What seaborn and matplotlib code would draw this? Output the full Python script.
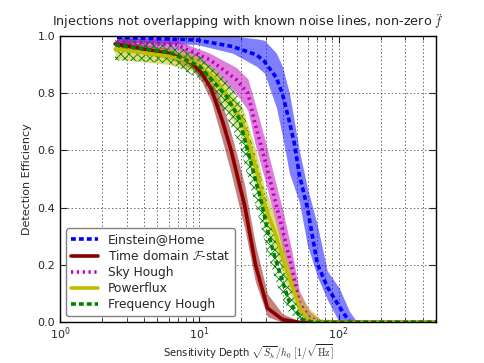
import numpy as np
import matplotlib
matplotlib.use("Agg")
import matplotlib.pyplot as plt
import seaborn as sns

# Einstein@Home
eah_depth = [2.56, 9.56, 17.3, 25.7, 29.3, 35.7, 39.5, 44.3, 48.1, 52.2, 59.6, 70.3, 82.8, 101, 119, 136, 500]
eah_eff = [0.995, 0.986, 0.963, 0.934, 0.911, 0.854, 0.797, 0.70, 0.624, 0.515, 0.40, 0.204, 0.124, 0.055, 0.003, 0.0, 0.0]
eah_lo = [0.98, 0.97, 0.94, 0.894, 0.87, 0.75, 0.65, 0.52, 0.47, 0.42, 0.27, 0.16, 0.08, 0.0, 0.0, 0.0, 0.0]
eah_hi = [1.0, 1.0, 1.0, 0.99, 0.985, 0.94, 0.893, 0.80, 0.70, 0.60, 0.47, 0.34, 0.18, 0.12, 0.04, 0.0, 0.0]

# Time domain F-stat
td_depth = [2.48, 6.13, 8.81, 10.4, 12.2, 14.7, 16.9, 19.4, 21.1, 25.3, 30.8, 39.4, 52.2, 500]
td_eff = [0.972, 0.938, 0.906, 0.87, 0.814, 0.70, 0.60, 0.48, 0.41, 0.20, 0.05, 0.01, 0.0, 0.0]
td_lo = [0.955, 0.92, 0.885, 0.84, 0.77, 0.63, 0.52, 0.40, 0.33, 0.14, 0.02, 0.0, 0.0, 0.0]
td_hi = [0.985, 0.955, 0.925, 0.895, 0.85, 0.76, 0.66, 0.55, 0.48, 0.27, 0.10, 0.03, 0.005, 0.0]

# Sky Hough
sky_depth = [2.55, 6.85, 11.85, 18.4, 22.3, 24.9, 30.2, 35.6, 39.7, 45.6, 52.2, 61.6, 75.1, 500]
sky_eff = [0.98, 0.969, 0.917, 0.848, 0.80, 0.70, 0.55, 0.41, 0.32, 0.20, 0.067, 0.015, 0.0, 0.0]
sky_lo = [0.965, 0.95, 0.89, 0.80, 0.74, 0.63, 0.48, 0.34, 0.25, 0.14, 0.03, 0.0, 0.0, 0.0]
sky_hi = [0.995, 0.985, 0.94, 0.89, 0.85, 0.77, 0.62, 0.48, 0.39, 0.26, 0.11, 0.04, 0.005, 0.0]

# Powerflux
pf_depth = [2.48, 6.13, 9.52, 13.2, 20.4, 25.5, 29.3, 34.6, 43.0, 52.2, 61.1, 74.9, 500]
pf_eff = [0.954, 0.929, 0.906, 0.848, 0.70, 0.538, 0.41, 0.32, 0.17, 0.055, 0.01, 0.0, 0.0]
pf_lo = [0.92, 0.90, 0.875, 0.81, 0.64, 0.47, 0.35, 0.26, 0.12, 0.03, 0.0, 0.0, 0.0]
pf_hi = [0.975, 0.955, 0.93, 0.88, 0.75, 0.60, 0.47, 0.38, 0.22, 0.10, 0.05, 0.01, 0.0]

# Frequency Hough
fh_depth = [2.48, 6.13, 10.05, 15.6, 19.4, 22.2, 27.9, 30.8, 36.2, 44.3, 54.8, 66.6, 500]
fh_eff = [0.969, 0.942, 0.894, 0.79, 0.71, 0.60, 0.42, 0.32, 0.20, 0.07, 0.01, 0.0, 0.0]
fh_lo = [0.915, 0.905, 0.85, 0.72, 0.62, 0.51, 0.33, 0.24, 0.13, 0.03, 0.0, 0.0, 0.0]
fh_hi = [0.995, 0.975, 0.93, 0.85, 0.78, 0.68, 0.50, 0.41, 0.28, 0.13, 0.04, 0.01, 0.0]

sns.set_style("white")
plt.rcParams["font.family"] = ["DejaVu Sans"]
plt.rcParams["mathtext.fontset"] = "cm"
plt.rcParams["lines.scale_dashes"] = False
plt.rcParams["hatch.linewidth"] = 0.6

fig = plt.figure(figsize=(4.85, 3.63), dpi=100)
ax = fig.add_axes([0.124, 0.112, 0.775, 0.789])

# bands
ax.fill_between(eah_depth, eah_lo, eah_hi, color="b", alpha=0.5, lw=0)
ax.fill_between(td_depth, td_lo, td_hi, color="darkred", alpha=0.5, lw=0)
ax.fill_between(sky_depth, sky_lo, sky_hi, color="m", alpha=0.5, lw=0)
ax.fill_between(pf_depth, pf_lo, pf_hi, color="y", alpha=0.5, lw=0)
ax.fill_between(fh_depth, fh_lo, fh_hi, facecolor="none", edgecolor="g", hatch="xxxx", lw=0)

lw = 2.6
sns.lineplot(x=eah_depth, y=eah_eff, ax=ax, color="b", lw=lw, linestyle=(0, (3.5, 2.2)), label="Einstein@Home")
sns.lineplot(x=td_depth, y=td_eff, ax=ax, color="darkred", lw=lw, linestyle="-", label=r"Time domain $\mathcal{F}$-stat")
sns.lineplot(x=sky_depth, y=sky_eff, ax=ax, color="m", lw=lw, linestyle=(0, (1.6, 2.6)), label="Sky Hough")
sns.lineplot(x=pf_depth, y=pf_eff, ax=ax, color="y", lw=lw, linestyle="-", label="Powerflux")
sns.lineplot(x=fh_depth, y=fh_eff, ax=ax, color="g", lw=lw, linestyle=(0, (3.5, 2.2)), label="Frequency Hough")

ax.set_xscale("log")
ax.set_xlim(1, 500)
ax.set_ylim(0, 1)
ax.set_yticks([0.0, 0.2, 0.4, 0.6, 0.8, 1.0])
ax.grid(True, which="both", axis="x", color="k", linestyle=":", linewidth=0.6, alpha=0.7)
ax.grid(True, which="major", axis="y", color="k", linestyle=":", linewidth=0.6, alpha=0.7)
ax.tick_params(which="both", direction="in", top=True, right=True, labelsize=8)
ax.tick_params(which="major", length=5, width=0.8, bottom=True, left=True)
ax.tick_params(which="minor", length=3, width=0.6, bottom=True)
ax.tick_params(axis="x", which="major", pad=2)
for s in ax.spines.values():
    s.set_color("k")
    s.set_linewidth(1.0)

ax.set_title(r"Injections not overlapping with known noise lines, non-zero $\ddot{f}$", fontsize=9.2, pad=7)
xlab = ax.set_xlabel(r"Sensitivity Depth $\sqrt{S_h}/h_0$ $[1/\sqrt{\mathrm{Hz}}]$", fontsize=7.2)
xlab.set_verticalalignment("center")
ax.xaxis.set_label_coords(0.5, -0.103)
ax.set_ylabel("Detection Efficiency", fontsize=8)

leg = ax.legend(loc="lower left", fontsize=8.8, handlelength=2.2, fancybox=True, framealpha=1,
                labelspacing=0.25, borderpad=0.4)
leg.get_frame().set_edgecolor("0.5")

fig.savefig("out.png", dpi=100)
